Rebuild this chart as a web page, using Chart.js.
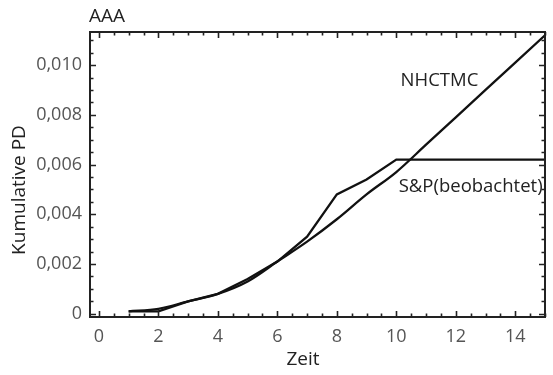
<!DOCTYPE html>
<html>
<head>
<meta charset="utf-8">
<script src="https://cdn.jsdelivr.net/npm/chart.js@4.4.0/dist/chart.umd.min.js"></script>
<style>
  html, body { margin: 0; padding: 0; background: #fff; }
  #wrap { width: 553px; height: 375px; }
</style>
</head>
<body>
<div id="wrap"><canvas id="c" width="553" height="375"></canvas></div>
<script>
// ---- data ----
const zeit = [1, 2, 3, 4, 5, 6, 7, 8, 9, 10, 11, 12, 13, 14, 15];
const nhctmc = [0.0001, 0.0002, 0.0005, 0.0008, 0.0013, 0.0021, 0.0029, 0.0038, 0.0048, 0.0057, 0.0068, 0.0079, 0.0090, 0.0101, 0.0112];
const spBeobachtet = [0.0001, 0.0001, 0.0005, 0.0008, 0.0014, 0.0021, 0.0031, 0.0048, 0.0054, 0.0062, 0.0062, 0.0062, 0.0062, 0.0062, 0.0062];
const xTickValues = [0, 2, 4, 6, 8, 10, 12, 14];
const yTickValues = [0, 0.002, 0.004, 0.006, 0.008, 0.010];
const yTickLabels = ['0', '0,002', '0,004', '0,006', '0,008', '0,010'];
const chartTitle = 'AAA';
const xTitle = 'Zeit';
const yTitle = 'Kumulative PD';
const seriesNames = ['NHCTMC', 'S&P(beobachtet)'];

const FONT = "'Open Sans', 'Noto Sans', sans-serif";

const decor = {
  id: 'decor',
  afterDatasetsDraw(chart) {
    const { ctx, chartArea: a, scales: { x, y } } = chart;
    ctx.save();
    ctx.strokeStyle = '#222';
    ctx.lineWidth = 2;
    ctx.strokeRect(a.left, a.top, a.right - a.left, a.bottom - a.top);
    ctx.lineWidth = 1.6;
    ctx.beginPath();
    // x ticks (inward, bottom and top)
    for (let i = 0; i <= 30; i++) {
      const v = i * 0.5;
      const px = Math.round(x.getPixelForValue(v)) + 0.5;
      if (px < a.left || px > a.right + 1) continue;
      const len = (i % 4 === 0) ? 6 : 3.5;
      ctx.moveTo(px, a.bottom); ctx.lineTo(px, a.bottom - len);
      ctx.moveTo(px, a.top); ctx.lineTo(px, a.top + len);
    }
    // y ticks (inward, left and right)
    for (let i = 0; i <= 22; i++) {
      const v = i * 0.0005;
      const py = Math.round(y.getPixelForValue(v)) + 0.5;
      if (py < a.top || py > a.bottom) continue;
      const len = (i % 4 === 0) ? 6 : 3.5;
      ctx.moveTo(a.left, py); ctx.lineTo(a.left + len, py);
      ctx.moveTo(a.right, py); ctx.lineTo(a.right - len, py);
    }
    ctx.stroke();

    // texts
    ctx.fillStyle = '#222';
    ctx.textBaseline = 'middle';
    ctx.font = '19px ' + FONT;
    ctx.textAlign = 'left';
    ctx.fillText(chartTitle, a.left - 1, a.top - 15);

    ctx.font = '18.5px ' + FONT;
    ctx.textAlign = 'center';
    ctx.fillText(seriesNames[0], x.getPixelForValue(11.45), y.getPixelForValue(0.00937));
    ctx.fillText(seriesNames[1], x.getPixelForValue(12.5), y.getPixelForValue(0.0051));

    ctx.font = '19px ' + FONT;
    ctx.fillText(xTitle, a.left + 213, a.bottom + 43);
    ctx.save();
    ctx.translate(20, a.top + 158);
    ctx.rotate(-Math.PI / 2);
    ctx.fillText(yTitle, 0, 0);
    ctx.restore();
    ctx.restore();
  }
};

new Chart(document.getElementById('c'), {
  type: 'line',
  data: {
    labels: zeit,
    datasets: [
      {
        label: seriesNames[0],
        data: zeit.map((t, i) => ({ x: t, y: nhctmc[i] })),
        borderColor: '#111',
        borderWidth: 2.3,
        pointRadius: 0,
        tension: 0.4,
        cubicInterpolationMode: 'monotone',
        fill: false
      },
      {
        label: seriesNames[1],
        data: zeit.map((t, i) => ({ x: t, y: spBeobachtet[i] })),
        borderColor: '#111',
        borderWidth: 2.3,
        pointRadius: 0,
        tension: 0,
        fill: false
      }
    ]
  },
  options: {
    responsive: false,
    animation: false,
    devicePixelRatio: 1,
    layout: { padding: { top: 32, right: 8, left: 0, bottom: 0 } },
    plugins: {
      legend: { display: false },
      title: { display: false },
      tooltip: { enabled: false }
    },
    scales: {
      x: {
        type: 'linear',
        min: -0.3,
        max: 15.0,
        afterFit(s) { s.height = 58; },
        afterBuildTicks(s) { s.ticks = xTickValues.map(v => ({ value: v })); },
        grid: { display: false, drawTicks: false },
        border: { display: false },
        ticks: {
          padding: 9,
          color: '#555',
          font: { family: FONT, size: 18 },
          maxRotation: 0,
          callback: (v) => String(v)
        }
      },
      y: {
        type: 'linear',
        min: -0.00013,
        max: 0.01133,
        afterFit(s) { s.width = 90; },
        afterBuildTicks(s) { s.ticks = yTickValues.map(v => ({ value: v })); },
        grid: { display: false, drawTicks: false },
        border: { display: false },
        ticks: {
          padding: 8,
          color: '#555',
          font: { family: FONT, size: 18 },
          callback: (v) => {
            const i = yTickValues.findIndex(t => Math.abs(t - v) < 1e-9);
            return i >= 0 ? yTickLabels[i] : '';
          }
        }
      }
    }
  },
  plugins: [decor]
});
</script>
</body>
</html>
